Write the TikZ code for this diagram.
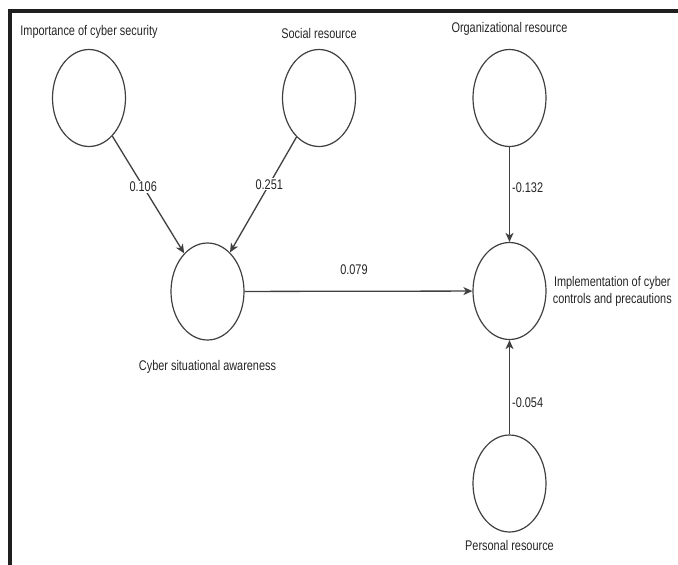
\documentclass[tikz,border=0pt]{standalone}
\usepackage{fontspec}
\newfontfamily\diagfont{Liberation Sans}[FakeStretch=0.78]
\usepackage{tikz}
\usetikzlibrary{shapes.geometric}
\usetikzlibrary{positioning}
\usetikzlibrary{arrows.meta}

\tikzset{
   latent/.style={
      draw=black!75,
      ellipse,
      line width=1.2pt,
      minimum width=73pt,
      minimum height=97pt,
      inner sep=0pt
   },
   caption/.style={
      text=black!85,
      inner sep=0pt,
      font=\diagfont\fontsize{14}{17}\selectfont
   },
   link/.style={
      draw=black!75,
      line width=1.3pt,
      -{Stealth[length=9pt,width=8pt,inset=2.5pt]}
   },
   coef/.style={
      text=black!85,
      fill=white,
      inner sep=1pt,
      font=\diagfont\fontsize{14}{17}\selectfont
   }
}

\begin{document}
\begin{tikzpicture}[x=1pt, y=-1pt]
   \useasboundingbox (0,0) rectangle (678,565);
   \fill[white] (0,0) rectangle (678,565);
   \draw[black!88, line width=3.5pt] (10,565) -- (10,11) -- (678,11);

   \node[latent] (imp) at (89,98) {};
   \node[latent] (soc) at (319,98) {};
   \node[latent] (org) at (509.5,98) {};
   \node[latent] (csa) at (207.5,291.5) {};
   \node[latent] (impl) at (509.5,291) {};
   \node[latent] (pers) at (509.5,483.5) {};

   \node[caption, above=10pt of imp] (impname) {Importance of cyber security};
   \node[caption, above=10pt of soc] (socname) {Social resource};
   \node[caption, above=13pt of org] (orgname) {Organizational resource};
   \node[caption, below=20pt of csa] (csaname) {Cyber situational awareness};
   \node[caption, right=6pt of impl, align=center] (implname)
      {Implementation of cyber\\controls and precautions};
   \node[caption, below=8pt of pers] (persname) {Personal resource};

   \draw[link] (imp) -- (csa) node[coef, pos=0.43] {0.106};
   \draw[link] (soc) -- (csa) node[coef, pos=0.41] {0.251};
   \draw[link] (csa) -- (impl) node[coef, pos=0.48, above=15pt, fill=none] {0.079};
   \draw[link] (org) -- (impl) node[coef, pos=0.43, right=1pt, fill=none] {-0.132};
   \draw[link] (pers) -- (impl) node[coef, pos=0.335, right=1pt, fill=none] {-0.054};

\end{tikzpicture}
\end{document}
